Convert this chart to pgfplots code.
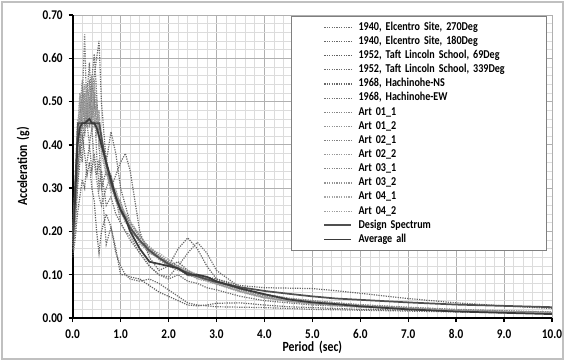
\documentclass[border=0pt]{standalone}
\usepackage{fontspec}
\setmainfont{Carlito}[FakeStretch=0.84]
\usepackage{pgfplots}
\pgfplotsset{compat=1.18}
\definecolor{gridmaj}{HTML}{B0B0B0}
\definecolor{gridmin}{HTML}{DCDCDC}
\definecolor{frame}{HTML}{C0C0C0}
\definecolor{legbord}{HTML}{7F7F7F}
\definecolor{solidA}{HTML}{505050}
\definecolor{solidB}{HTML}{3A3A3A}
\tikzset{dots/.style={line width=0.9pt, dash pattern=on 0.9pt off 0.9pt, color=#1}}
\begin{document}
\begin{tikzpicture}[font=\bfseries]
\useasboundingbox (0,0) rectangle (423.75pt,270.75pt);
\draw[color=frame, line width=1.4pt] (1.8pt,1.8pt) rectangle (421.95pt,268.95pt);
\begin{axis}[
  at={(54.5pt,32.25pt)}, anchor=south west,
  scale only axis, width=359.5pt, height=227.25pt,
  xmin=0, xmax=10, ymin=0, ymax=0.7,
  xtick={0,1,2,3,4,5,6,7,8,9,10},
  ytick={0,0.1,0.2,0.3,0.4,0.5,0.6,0.7},
  minor x tick num=4, minor y tick num=4,
  grid=both,
  major grid style={draw=gridmaj, line width=0.6pt},
  minor grid style={draw=gridmin, line width=0.5pt},
  axis x line*=bottom, axis y line*=left,
  axis line style={black, line width=1.4pt, -},
  tick align=outside, major tick length=3pt, minor tick length=0pt,
  major tick style={black, line width=1pt},
  /pgf/number format/assume math mode=true,
  xticklabel style={yshift=-2pt, /pgf/number format/.cd, fixed, fixed zerofill, precision=1},
  yticklabel style={xshift=-1pt, /pgf/number format/.cd, fixed, fixed zerofill, precision=2},
  ticklabel style={font=\bfseries\fontsize{10}{11}\selectfont},
  xlabel={Period\, (sec)}, ylabel={Acceleration\, (g)},
  xlabel style={yshift=5pt},
  ylabel style={yshift=3pt},
  label style={font=\bfseries\fontsize{10.5}{12}\selectfont},
  legend style={at={(0.9896,0.9967)}, anchor=north east, draw=legbord, fill=white,
    line width=0.6pt, font=\bfseries\fontsize{9}{10}\selectfont,
    inner xsep=24pt, inner ysep=3pt, row sep=0pt,
    nodes={inner sep=0pt, text height=7.4pt, text depth=3.2pt, font=\bfseries\fontsize{9}{10}\selectfont},
    /tikz/every odd column/.append style={column sep=5pt},
    /tikz/every even column/.append style={nodes={text width=117pt}}},
  legend cell align=left,
  legend image code/.code={\draw[#1] (0pt,0pt) -- (20pt,0pt);},
]
% 1940 Elcentro 270
\addplot[dots=gray!85!black] coordinates {(0,0.22) (0.05,0.30) (0.1,0.42) (0.15,0.38) (0.2,0.50) (0.25,0.44) (0.3,0.52) (0.35,0.59) (0.4,0.47) (0.45,0.50) (0.5,0.38) (0.55,0.30) (0.6,0.34) (0.7,0.26) (0.8,0.28) (0.9,0.24) (1.0,0.22) (1.1,0.20) (1.2,0.18) (1.4,0.15) (1.6,0.12) (1.8,0.10) (2.0,0.09) (2.2,0.10) (2.4,0.085) (2.6,0.08) (2.8,0.07) (3.0,0.065) (3.5,0.05) (4.0,0.04) (4.5,0.035) (5.0,0.03) (5.5,0.028) (6,0.025) (7,0.02) (8,0.017) (9,0.015) (10,0.012)};
\addlegendentry{1940, Elcentro Site, 270Deg}
% 1940 Elcentro 180
\addplot[dots=gray!80!black] coordinates {(0,0.20) (0.05,0.26) (0.1,0.35) (0.15,0.40) (0.2,0.45) (0.25,0.42) (0.3,0.48) (0.35,0.44) (0.4,0.52) (0.45,0.56) (0.5,0.60) (0.55,0.64) (0.6,0.50) (0.7,0.36) (0.8,0.43) (0.9,0.38) (1.0,0.30) (1.1,0.26) (1.2,0.22) (1.4,0.19) (1.6,0.16) (1.8,0.14) (2.0,0.12) (2.2,0.13) (2.4,0.11) (2.6,0.10) (2.8,0.095) (3.0,0.09) (3.5,0.075) (4.0,0.07) (4.5,0.069) (5.0,0.068) (5.5,0.063) (6,0.057) (7,0.045) (8,0.035) (9,0.028) (10,0.022)};
\addlegendentry{1940, Elcentro Site, 180Deg}
% 1952 Taft 69
\addplot[dots=gray!75!black] coordinates {(0,0.16) (0.05,0.22) (0.1,0.30) (0.15,0.36) (0.2,0.42) (0.25,0.38) (0.3,0.33) (0.35,0.36) (0.4,0.30) (0.45,0.27) (0.5,0.20) (0.55,0.15) (0.6,0.20) (0.7,0.24) (0.8,0.21) (0.9,0.16) (1.0,0.10) (1.1,0.10) (1.2,0.095) (1.4,0.09) (1.6,0.075) (1.8,0.06) (2.0,0.05) (2.2,0.04) (2.4,0.03) (2.6,0.028) (2.8,0.03) (3.0,0.034) (3.5,0.035) (4.0,0.03) (4.5,0.026) (5.0,0.024) (5.5,0.022) (6,0.02) (7,0.018) (8,0.016) (9,0.015) (10,0.013)};
\addlegendentry{1952, Taft Lincoln School, 69Deg}
% 1952 Taft 339
\addplot[dots=gray!85!black] coordinates {(0,0.18) (0.05,0.24) (0.1,0.33) (0.15,0.40) (0.2,0.36) (0.25,0.45) (0.3,0.50) (0.35,0.46) (0.4,0.55) (0.45,0.61) (0.5,0.52) (0.55,0.40) (0.6,0.32) (0.7,0.17) (0.8,0.21) (0.9,0.15) (1.0,0.12) (1.1,0.10) (1.2,0.09) (1.4,0.085) (1.6,0.09) (1.8,0.08) (2.0,0.065) (2.2,0.05) (2.4,0.035) (2.6,0.03) (2.8,0.028) (3.0,0.026) (3.5,0.025) (4.0,0.024) (4.5,0.022) (5.0,0.02) (5.5,0.019) (6,0.018) (7,0.016) (8,0.014) (9,0.012) (10,0.011)};
\addlegendentry{1952, Taft Lincoln School, 339Deg}
% 1968 Hachinohe NS
\addplot[dots=gray!80!black] coordinates {(0,0.14) (0.05,0.18) (0.1,0.24) (0.15,0.28) (0.2,0.32) (0.25,0.30) (0.3,0.36) (0.35,0.40) (0.4,0.34) (0.45,0.38) (0.5,0.33) (0.55,0.36) (0.6,0.30) (0.7,0.34) (0.8,0.30) (0.9,0.33) (1.0,0.36) (1.1,0.38) (1.2,0.34) (1.4,0.20) (1.6,0.14) (1.8,0.11) (2.0,0.12) (2.2,0.16) (2.4,0.185) (2.6,0.16) (2.8,0.12) (3.0,0.09) (3.5,0.07) (4.0,0.05) (4.5,0.04) (5.0,0.035) (5.5,0.03) (6,0.028) (7,0.022) (8,0.018) (9,0.015) (10,0.012)};
\addlegendentry{1968, Hachinohe-NS}
% 1968 Hachinohe EW
\addplot[dots=gray!90!black] coordinates {(0,0.15) (0.05,0.20) (0.1,0.30) (0.15,0.42) (0.2,0.50) (0.25,0.655) (0.3,0.45) (0.35,0.40) (0.4,0.44) (0.45,0.36) (0.5,0.32) (0.55,0.28) (0.6,0.26) (0.7,0.30) (0.8,0.33) (0.9,0.28) (1.0,0.22) (1.1,0.20) (1.2,0.19) (1.4,0.15) (1.6,0.12) (1.8,0.10) (2.0,0.095) (2.2,0.12) (2.4,0.15) (2.6,0.175) (2.8,0.15) (3.0,0.11) (3.5,0.07) (4.0,0.055) (4.5,0.045) (5.0,0.04) (5.5,0.035) (6,0.03) (7,0.024) (8,0.019) (9,0.016) (10,0.013)};
\addlegendentry{1968, Hachinohe-EW}
% Art 01_1
\addplot[dots=gray!95] coordinates {(0,0.17) (0.05,0.24) (0.1,0.40) (0.15,0.50) (0.2,0.44) (0.25,0.52) (0.3,0.47) (0.35,0.55) (0.4,0.43) (0.45,0.50) (0.5,0.46) (0.55,0.42) (0.6,0.40) (0.7,0.35) (0.8,0.30) (0.9,0.29) (1.0,0.26) (1.1,0.24) (1.2,0.22) (1.4,0.19) (1.6,0.16) (1.8,0.145) (2.0,0.13) (2.2,0.115) (2.4,0.105) (2.6,0.10) (2.8,0.09) (3.0,0.082) (3.5,0.065) (4.0,0.05) (4.5,0.042) (5.0,0.036) (5.5,0.032) (6,0.028) (7,0.022) (8,0.018) (9,0.015) (10,0.012)};
\addlegendentry{Art 01\_1}
% Art 01_2
\addplot[dots=gray!85] coordinates {(0,0.18) (0.05,0.27) (0.1,0.45) (0.15,0.42) (0.2,0.53) (0.25,0.48) (0.3,0.50) (0.35,0.44) (0.4,0.56) (0.45,0.47) (0.5,0.43) (0.55,0.48) (0.6,0.38) (0.7,0.33) (0.8,0.32) (0.9,0.27) (1.0,0.24) (1.1,0.23) (1.2,0.21) (1.4,0.175) (1.6,0.15) (1.8,0.14) (2.0,0.125) (2.2,0.12) (2.4,0.10) (2.6,0.095) (2.8,0.088) (3.0,0.08) (3.5,0.062) (4.0,0.048) (4.5,0.04) (5.0,0.034) (5.5,0.03) (6,0.026) (7,0.021) (8,0.017) (9,0.014) (10,0.011)};
\addlegendentry{Art 01\_2}
% Art 02_1
\addplot[dots=gray] coordinates {(0,0.16) (0.05,0.22) (0.1,0.38) (0.15,0.47) (0.2,0.51) (0.25,0.45) (0.3,0.54) (0.35,0.49) (0.4,0.45) (0.45,0.52) (0.5,0.44) (0.55,0.46) (0.6,0.41) (0.7,0.37) (0.8,0.31) (0.9,0.28) (1.0,0.27) (1.1,0.23) (1.2,0.20) (1.4,0.18) (1.6,0.16) (1.8,0.14) (2.0,0.13) (2.2,0.12) (2.4,0.11) (2.6,0.097) (2.8,0.09) (3.0,0.084) (3.5,0.066) (4.0,0.052) (4.5,0.044) (5.0,0.038) (5.5,0.034) (6,0.03) (7,0.024) (8,0.019) (9,0.016) (10,0.013)};
\addlegendentry{Art 02\_1}
% Art 02_2
\addplot[dots=gray!80] coordinates {(0,0.19) (0.05,0.29) (0.1,0.43) (0.15,0.52) (0.2,0.46) (0.25,0.50) (0.3,0.45) (0.35,0.53) (0.4,0.48) (0.45,0.44) (0.5,0.51) (0.55,0.40) (0.6,0.43) (0.7,0.34) (0.8,0.29) (0.9,0.30) (1.0,0.25) (1.1,0.22) (1.2,0.215) (1.4,0.17) (1.6,0.155) (1.8,0.135) (2.0,0.12) (2.2,0.11) (2.4,0.105) (2.6,0.09) (2.8,0.085) (3.0,0.078) (3.5,0.06) (4.0,0.046) (4.5,0.038) (5.0,0.032) (5.5,0.028) (6,0.025) (7,0.02) (8,0.016) (9,0.013) (10,0.01)};
\addlegendentry{Art 02\_2}
% Art 03_1
\addplot[dots=gray!95] coordinates {(0,0.17) (0.05,0.25) (0.1,0.41) (0.15,0.48) (0.2,0.55) (0.25,0.47) (0.3,0.44) (0.35,0.51) (0.4,0.46) (0.45,0.54) (0.5,0.45) (0.55,0.43) (0.6,0.39) (0.7,0.36) (0.8,0.31) (0.9,0.275) (1.0,0.26) (1.1,0.235) (1.2,0.22) (1.4,0.185) (1.6,0.165) (1.8,0.145) (2.0,0.128) (2.2,0.118) (2.4,0.108) (2.6,0.10) (2.8,0.092) (3.0,0.085) (3.5,0.068) (4.0,0.055) (4.5,0.046) (5.0,0.04) (5.5,0.035) (6,0.031) (7,0.025) (8,0.02) (9,0.017) (10,0.014)};
\addlegendentry{Art 03\_1}
% Art 03_2
\addplot[dots=gray!85] coordinates {(0,0.18) (0.05,0.26) (0.1,0.44) (0.15,0.45) (0.2,0.49) (0.25,0.54) (0.3,0.46) (0.35,0.48) (0.4,0.53) (0.45,0.45) (0.5,0.49) (0.55,0.44) (0.6,0.42) (0.7,0.35) (0.8,0.33) (0.9,0.28) (1.0,0.25) (1.1,0.24) (1.2,0.21) (1.4,0.18) (1.6,0.15) (1.8,0.14) (2.0,0.122) (2.2,0.113) (2.4,0.098) (2.6,0.094) (2.8,0.086) (3.0,0.079) (3.5,0.061) (4.0,0.047) (4.5,0.039) (5.0,0.033) (5.5,0.029) (6,0.026) (7,0.021) (8,0.017) (9,0.014) (10,0.011)};
\addlegendentry{Art 03\_2}
% Art 04_1
\addplot[dots=gray!70] coordinates {(0,0.17) (0.05,0.23) (0.1,0.39) (0.15,0.51) (0.2,0.47) (0.25,0.43) (0.3,0.52) (0.35,0.45) (0.4,0.50) (0.45,0.48) (0.5,0.42) (0.55,0.47) (0.6,0.40) (0.7,0.36) (0.8,0.32) (0.9,0.29) (1.0,0.265) (1.1,0.24) (1.2,0.225) (1.4,0.19) (1.6,0.16) (1.8,0.15) (2.0,0.135) (2.2,0.12) (2.4,0.108) (2.6,0.10) (2.8,0.091) (3.0,0.083) (3.5,0.067) (4.0,0.053) (4.5,0.045) (5.0,0.039) (5.5,0.033) (6,0.029) (7,0.023) (8,0.018) (9,0.015) (10,0.012)};
\addlegendentry{Art 04\_1}
% Art 04_2
\addplot[dots=gray!75] coordinates {(0,0.19) (0.05,0.28) (0.1,0.46) (0.15,0.44) (0.2,0.50) (0.25,0.47) (0.3,0.53) (0.35,0.47) (0.4,0.44) (0.45,0.55) (0.5,0.47) (0.55,0.41) (0.6,0.39) (0.7,0.34) (0.8,0.30) (0.9,0.27) (1.0,0.245) (1.1,0.225) (1.2,0.205) (1.4,0.175) (1.6,0.152) (1.8,0.138) (2.0,0.124) (2.2,0.116) (2.4,0.102) (2.6,0.092) (2.8,0.087) (3.0,0.08) (3.5,0.063) (4.0,0.049) (4.5,0.041) (5.0,0.035) (5.5,0.031) (6,0.027) (7,0.021) (8,0.017) (9,0.014) (10,0.011)};
\addlegendentry{Art 04\_2}
% Design Spectrum
\addplot[solidA, line width=1.3pt] coordinates {(0,0.18) (0.111,0.45) (0.556,0.45) (0.6,0.417) (0.7,0.357) (0.8,0.3125) (0.9,0.278) (1.0,0.25) (1.2,0.208) (1.4,0.179) (1.6,0.156) (1.8,0.139) (2.0,0.125) (2.25,0.111) (2.5,0.10) (2.75,0.091) (3.0,0.083) (3.5,0.071) (4.0,0.0625) (4.5,0.056) (5.0,0.05) (5.5,0.045) (6,0.042) (7,0.036) (8,0.031) (9,0.028) (10,0.025)};
\addlegendentry{Design Spectrum}
% Average all
\addplot[solidB, line width=1.3pt] coordinates {(0,0.17) (0.05,0.27) (0.1,0.40) (0.15,0.44) (0.2,0.45) (0.25,0.45) (0.3,0.455) (0.35,0.46) (0.4,0.45) (0.45,0.45) (0.5,0.44) (0.55,0.42) (0.6,0.40) (0.7,0.36) (0.8,0.32) (0.9,0.28) (1.0,0.25) (1.1,0.23) (1.2,0.20) (1.4,0.16) (1.6,0.13) (1.8,0.125) (2.0,0.12) (2.2,0.115) (2.4,0.10) (2.6,0.10) (2.8,0.095) (3.0,0.085) (3.5,0.068) (4.0,0.055) (4.5,0.043) (5.0,0.036) (5.5,0.032) (6,0.027) (7,0.02) (8,0.015) (9,0.012) (10,0.009)};
\addlegendentry{Average all}
\end{axis}
\end{tikzpicture}
\end{document}
